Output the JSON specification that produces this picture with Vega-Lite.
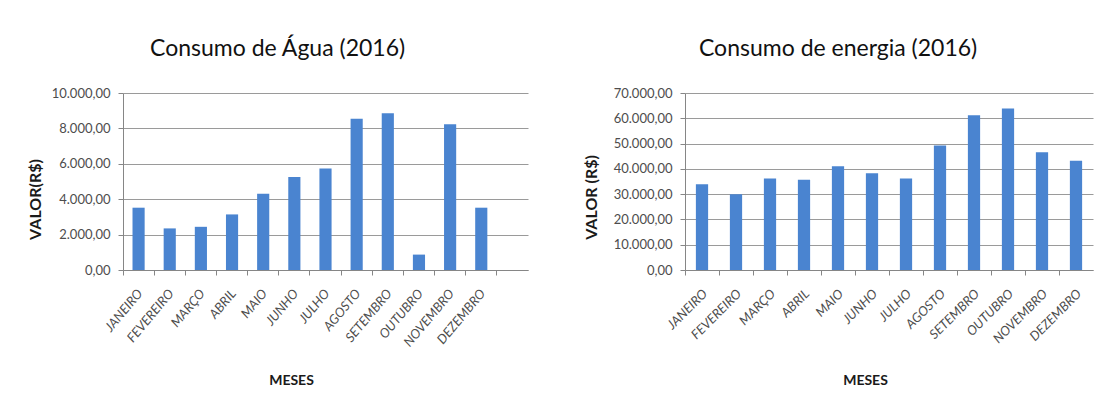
{
  "$schema": "https://vega.github.io/schema/vega-lite/v6.json",
  "background": "white",
  "padding": {"left": 27, "top": 38, "right": 5, "bottom": 5},
  "spacing": 55,
  "config": {
    "locale": {"number": {"decimal": ",", "thousands": ".", "grouping": [3], "currency": ["R$ ", ""]}},
    "view": {"stroke": null},
    "font": "Lato",
    "axis": {
      "labelFont": "Lato",
      "titleFont": "Lato",
      "labelColor": "#4d4d4d",
      "titleColor": "#1a1a1a",
      "domainColor": "#868686",
      "tickColor": "#868686",
      "gridColor": "#9a9a9a",
      "tickSize": 5
    },
    "title": {"font": "Lato", "fontSize": 23, "fontWeight": "normal", "color": "#111111", "frame": "bounds", "anchor": "middle", "offset": 26}
  },
  "datasets": {
    "agua": [
      {"mes": "JANEIRO", "valor": 3520},
      {"mes": "FEVEREIRO", "valor": 2350},
      {"mes": "MARÇO", "valor": 2440},
      {"mes": "ABRIL", "valor": 3140},
      {"mes": "MAIO", "valor": 4310},
      {"mes": "JUNHO", "valor": 5250},
      {"mes": "JULHO", "valor": 5730},
      {"mes": "AGOSTO", "valor": 8540},
      {"mes": "SETEMBRO", "valor": 8860},
      {"mes": "OUTUBRO", "valor": 870},
      {"mes": "NOVEMBRO", "valor": 8240},
      {"mes": "DEZEMBRO", "valor": 3520}
    ],
    "energia": [
      {"mes": "JANEIRO", "valor": 33900},
      {"mes": "FEVEREIRO", "valor": 30000},
      {"mes": "MARÇO", "valor": 36200},
      {"mes": "ABRIL", "valor": 35700},
      {"mes": "MAIO", "valor": 41000},
      {"mes": "JUNHO", "valor": 38300},
      {"mes": "JULHO", "valor": 36200},
      {"mes": "AGOSTO", "valor": 49200},
      {"mes": "SETEMBRO", "valor": 61200},
      {"mes": "OUTUBRO", "valor": 63900},
      {"mes": "NOVEMBRO", "valor": 46600},
      {"mes": "DEZEMBRO", "valor": 43200}
    ]
  },
  "hconcat": [
    {
      "width": 405,
      "height": 177,
      "title": {"text": "Consumo de Água (2016)"},
      "data": {"name": "agua"},
      "mark": {"type": "bar", "color": "#4a84d0", "width": {"band": 0.39}},
      "encoding": {
        "x": {
          "field": "mes", "type": "nominal", "sort": null,
          "scale": {"domain": ["JANEIRO", "FEVEREIRO", "MARÇO", "ABRIL", "MAIO", "JUNHO", "JULHO", "AGOSTO", "SETEMBRO", "OUTUBRO", "NOVEMBRO", "DEZEMBRO", " "], "paddingInner": 0, "paddingOuter": 0},
          "axis": {"title": "MESES", "titleFontWeight": "bold", "titleFontSize": 14, "titleX": 168, "titleY": 110, "titleBaseline": "middle", "titleAlign": "center", "labelAngle": -50, "labelAlign": "right", "labelBaseline": "top", "labelFontStyle": "italic", "labelFontSize": 13, "bandPosition": 0, "labelOffset": -3, "grid": false, "labelPadding": 12}
        },
        "y": {
          "field": "valor", "type": "quantitative",
          "scale": {"domain": [0, 10000]},
          "axis": {"title": "VALOR(R$)", "format": ",.2f", "values": [0, 2000, 4000, 6000, 8000, 10000], "grid": true, "domain": true, "labelFontSize": 13, "labelPadding": 8, "titleFontSize": 16, "titleFontWeight": "bold", "titlePadding": 8, "titleY": 106}
        }
      }
    },
    {
      "width": 408,
      "height": 177,
      "title": {"text": "Consumo de energia (2016)"},
      "data": {"name": "energia"},
      "mark": {"type": "bar", "color": "#4a84d0", "width": {"band": 0.36}},
      "encoding": {
        "x": {
          "field": "mes", "type": "nominal", "sort": null,
          "scale": {"domain": ["JANEIRO", "FEVEREIRO", "MARÇO", "ABRIL", "MAIO", "JUNHO", "JULHO", "AGOSTO", "SETEMBRO", "OUTUBRO", "NOVEMBRO", "DEZEMBRO"], "paddingInner": 0, "paddingOuter": 0},
          "axis": {"title": "MESES", "titleFontWeight": "bold", "titleFontSize": 14, "titleX": 180, "titleY": 110, "titleBaseline": "middle", "titleAlign": "center", "labelAngle": -45, "labelAlign": "right", "labelBaseline": "top", "labelFontStyle": "italic", "labelFontSize": 13, "bandPosition": 0, "labelOffset": -1, "grid": false, "labelPadding": 12}
        },
        "y": {
          "field": "valor", "type": "quantitative",
          "scale": {"domain": [0, 70000]},
          "axis": {"title": "VALOR (R$)", "format": ",.2f", "values": [0, 10000, 20000, 30000, 40000, 50000, 60000, 70000], "grid": true, "domain": true, "labelFontSize": 13, "labelPadding": 8, "titleFontSize": 16, "titleFontWeight": "bold", "titlePadding": 14, "titleY": 104}
        }
      }
    }
  ]
}
